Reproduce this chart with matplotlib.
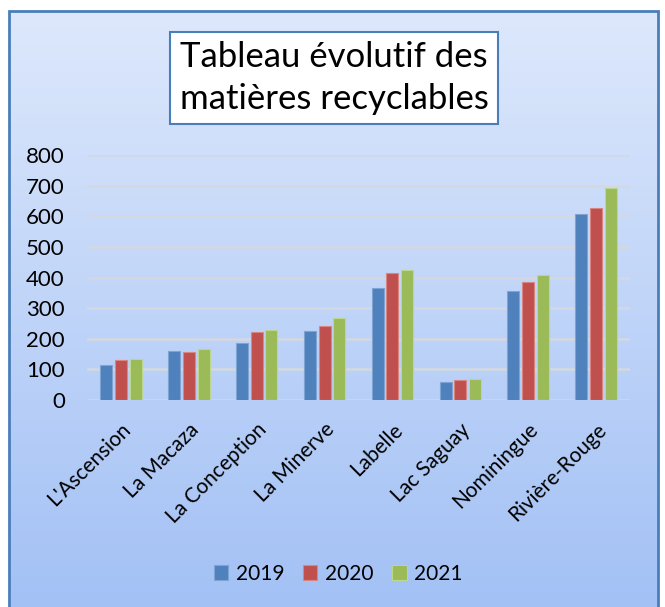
import numpy as np
import matplotlib.pyplot as plt
from matplotlib.patches import Rectangle

plt.rcParams['font.family'] = ['Lato', 'DejaVu Sans']

villes = ["L'Ascension", 'La Macaza', 'La Conception', 'La Minerve',
          'Labelle', 'Lac Saguay', 'Nominingue', 'Rivière-Rouge']
v2019 = [115, 160, 186, 224, 366, 59, 355, 606]
v2020 = [129, 156, 222, 243, 414, 65, 385, 627]
v2021 = [133, 167, 229, 267, 423, 70, 409, 692]
annees = ['2019', '2020', '2021']
couleurs = ['#4f81bd', '#c0504d', '#9bbb59']
bords = ['#7ea4d4', '#d98683', '#bcd68e']

W, H = 665, 607
fig = plt.figure(figsize=(W / 100, H / 100), dpi=100)
fig.patch.set_facecolor('white')

# fond dégradé dans le cadre
bg = fig.add_axes([9 / W, 0, 649 / W, 1 - 11 / H], zorder=0)
grad = np.linspace(0, 1, 256).reshape(-1, 1)
c_top = np.array([0xdd, 0xe8, 0xfc]) / 255
c_bot = np.array([0xa3, 0xc1, 0xf5]) / 255
img = c_top + (c_bot - c_top) * grad[:, :, None]
bg.imshow(img, aspect='auto', extent=[0, 1, 0, 1])
bg.set_axis_off()
fig.patches.append(Rectangle((9 / W, -0.01), 649 / W, 1 - 11 / H + 0.01,
                             transform=fig.transFigure, fill=False,
                             edgecolor='#4a7ebb', linewidth=2, zorder=5))

ax = fig.add_axes([87 / W, 1 - 400 / H, 543 / W, 245 / H], zorder=2)
ax.patch.set_alpha(0)
x = np.arange(len(villes))
w, s = 0.177, 0.218
for i, vals in enumerate([v2019, v2020, v2021]):
    ax.bar(x + (i - 1) * s, vals, w, color=couleurs[i], edgecolor=bords[i],
           linewidth=0.8, label=annees[i], zorder=3)

ax.set_xlim(-0.5, len(villes) - 0.5)
ax.set_ylim(0, 800)
ax.set_yticks(range(0, 801, 100))
ax.yaxis.grid(True, color='#d4d8e0', linewidth=1.8, zorder=0)
ax.set_axisbelow(True)
for sp in ax.spines.values():
    sp.set_visible(False)
ax.tick_params(axis='both', length=0)
ax.tick_params(axis='y', pad=16, labelsize=16)
ax.set_xticks(x)
ax.set_xticklabels(villes, rotation=45, ha='right', rotation_mode='anchor', fontsize=15)
ax.tick_params(axis='x', pad=14)

fig.text(334 / W, 1 - 78 / H, 'Tableau évolutif des\nmatières recyclables',
         ha='center', va='center', fontsize=25, linespacing=1.35, zorder=6,
         bbox=dict(boxstyle='square,pad=0.28', facecolor='white',
                   edgecolor='#4a7ebb', linewidth=1.5))

fig.legend(loc='center', bbox_to_anchor=(338 / W, 1 - 574 / H), ncol=3,
           frameon=False, fontsize=15, handlelength=0.7, handleheight=0.7,
           handletextpad=0.35, columnspacing=0.9)

fig.savefig('out.png', dpi=100)
